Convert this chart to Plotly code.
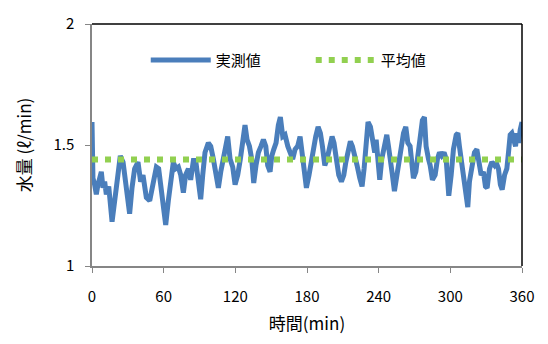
import plotly.graph_objects as go

time_min = [0, 0.8, 2.2, 3.6, 5.0, 7.8, 9.2, 10.6, 12.0, 14.0, 16.8, 19.0, 21.8, 23.7, 26.0,
            27.9, 30.2, 31.5, 33.5, 35.7, 38.5, 40.7, 42.7, 45.5, 48.3, 51.1, 53.9, 55.8,
            58.3, 60.3, 61.7, 63.9, 65.9, 68.1, 70.1, 72.3, 74.3, 76.5, 78.4, 80.7, 82.6,
            84.9, 86.8, 89.0, 91.0, 92.7, 94.6, 97.4, 99.4, 101.6, 103.8, 105.8, 107.8,
            110.0, 112.0, 113.6, 115.6, 117.8,
            119.8, 122.0, 124.2, 126.2, 128.1, 129.8, 131.8, 133.7, 135.4, 137.3, 139.3,
            141.5, 143.5, 145.5, 147.1, 149.1, 150.5, 152.2, 154.1, 156.0, 157.7, 159.7,
            161.6, 163.9, 166.2, 168.0, 170.0, 172.2, 174.2, 175.9, 177.8,
            179.5, 181.7, 183.7, 185.6, 187.3, 189.3, 191.2, 192.9, 194.9, 196.8, 199.0,
            201.0, 202.6, 204.6, 206.6, 208.8, 210.8, 212.5, 214.4, 216.3, 218.0, 220.0,
            221.9, 224.2, 226.1, 227.8, 229.7, 231.1, 233.1, 234.8, 236.7,
            237.9, 239.8, 240.9, 242.6, 244.8, 246.8, 248.2, 249.6, 251.5, 253.2, 255.2,
            257.1, 258.8, 260.8, 262.7, 264.4, 266.3, 267.7, 269.1, 271.1, 272.7, 274.7,
            276.6, 278.3, 279.7, 281.7, 283.1, 285.0, 287.3, 289.2, 290.9, 292.8, 294.8,
            296.5, 298.7,
            300.7, 302.6, 304.9, 306.3, 307.6, 309.0, 310.4, 311.8, 313.2, 314.6, 316.0,
            318.3, 320.2, 322.2, 323.8, 325.8, 327.7, 329.4, 330.8, 332.8, 334.7, 336.9,
            338.3, 340.3, 341.9, 343.4, 345.4, 347.3, 348.7, 350.1, 351.5, 353.2, 354.6,
            355.7, 357.1, 358.5, 360]
flow = [1.595, 1.363, 1.336, 1.296, 1.336, 1.389, 1.323, 1.349, 1.296, 1.329, 1.183, 1.283,
        1.376, 1.455, 1.429, 1.349, 1.296, 1.216, 1.323, 1.402, 1.429, 1.349, 1.376, 1.283,
        1.270, 1.336, 1.409, 1.402, 1.309, 1.243, 1.170, 1.270, 1.363, 1.429, 1.402,
        1.409, 1.376, 1.303, 1.376, 1.402, 1.356, 1.436, 1.436, 1.349, 1.276, 1.376,
        1.469, 1.509, 1.495, 1.442, 1.389, 1.323, 1.389, 1.455, 1.495, 1.535, 1.442,
        1.409,
        1.336, 1.376, 1.442, 1.509, 1.582, 1.522, 1.495, 1.442, 1.343, 1.416, 1.469,
        1.495, 1.522, 1.495, 1.416, 1.389, 1.455, 1.482, 1.509, 1.582, 1.615, 1.535,
        1.542, 1.495, 1.455, 1.442, 1.482, 1.495, 1.535, 1.455, 1.363,
        1.323, 1.376, 1.442, 1.495, 1.535, 1.575, 1.549, 1.495, 1.416, 1.442, 1.482,
        1.535, 1.509, 1.442, 1.376, 1.349, 1.376, 1.429, 1.482, 1.515, 1.495, 1.442,
        1.416, 1.363, 1.329, 1.402, 1.509, 1.595, 1.575, 1.522, 1.469,
        1.522, 1.402, 1.356, 1.442, 1.495, 1.542, 1.495, 1.429, 1.376, 1.309, 1.376,
        1.429, 1.482, 1.549, 1.575, 1.509, 1.495, 1.429, 1.363, 1.389, 1.442, 1.535,
        1.602, 1.615, 1.495, 1.442, 1.416, 1.356, 1.376, 1.442, 1.469, 1.455, 1.469,
        1.442, 1.290,
        1.376, 1.482, 1.542, 1.549, 1.495, 1.442, 1.376, 1.336, 1.283, 1.243, 1.349,
        1.429, 1.469, 1.482, 1.416, 1.376, 1.389, 1.329, 1.323, 1.402, 1.429, 1.416,
        1.429, 1.402, 1.336, 1.316, 1.376, 1.402, 1.469, 1.542, 1.549, 1.522, 1.495,
        1.549, 1.509, 1.562, 1.595]
avg_value = 1.44
avg_time = [0, 360]

name_measured = "実測値"
name_average = "平均値"
x_title = "時間(min)"
y_title = "水量 (ℓ/min)"
x_ticks = [0, 60, 120, 180, 240, 300, 360]
y_ticks = [1, 1.5, 2]
y_ticklabels = ["1", "1.5", "2"]

font_main = "Noto Sans CJK JP, Open Sans, sans-serif"

fig = go.Figure()
fig.add_trace(go.Scatter(x=time_min, y=flow, mode="lines", name=name_measured,
                         line=dict(color="#4A7EBB", width=5)))
fig.add_trace(go.Scatter(x=avg_time, y=[avg_value] * len(avg_time), mode="lines",
                         name=name_average,
                         line=dict(color="#92D050", width=6, dash="6px,7px")))

fig.update_layout(
    width=548, height=344,
    margin=dict(l=92, r=26, t=15, b=78),
    paper_bgcolor="white", plot_bgcolor="white",
    font=dict(family=font_main, size=15, color="black"),
    showlegend=True,
    legend=dict(orientation="h", x=0.125, y=0.85, xanchor="left", yanchor="middle",
                bgcolor="rgba(0,0,0,0)", font=dict(size=15),
                entrywidth=90, entrywidthmode="pixels", itemwidth=60),
    xaxis=dict(range=[0, 360], tickvals=x_ticks, ticks="outside", ticklen=5,
               tickcolor="#868686", showline=True, linecolor="#868686", linewidth=1.5,
               showgrid=False, zeroline=False, mirror=False, ticklabelstandoff=11,
               title=dict(text=x_title, font=dict(size=17), standoff=13),
               tickfont=dict(size=15)),
    yaxis=dict(range=[1, 2], tickvals=y_ticks, ticktext=y_ticklabels, ticks="outside",
               ticklen=5, tickcolor="#868686", showline=True, linecolor="#868686",
               linewidth=1.5, showgrid=False, zeroline=False, ticklabelstandoff=8,
               title=dict(text=y_title, font=dict(size=17), standoff=17),
               tickfont=dict(size=15)),
)
# top and right frame (black)
fig.add_shape(type="line", xref="paper", yref="paper", x0=0, x1=1, y0=1, y1=1,
              line=dict(color="black", width=1.5))
fig.add_shape(type="line", xref="paper", yref="paper", x0=1, x1=1, y0=0, y1=1,
              line=dict(color="black", width=1.5))

fig.write_html("out.html")
